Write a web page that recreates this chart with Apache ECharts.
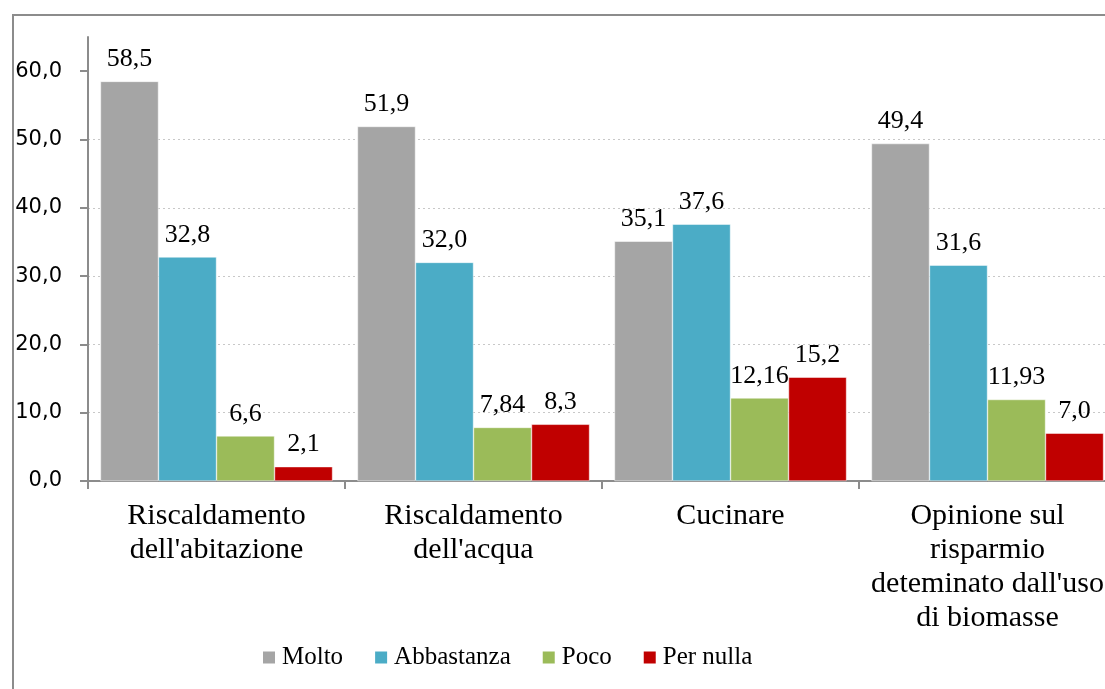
<!DOCTYPE html>
<html>
<head>
<meta charset="utf-8">
<script src="https://cdn.jsdelivr.net/npm/echarts@6/dist/echarts.min.js"></script>
<style>
html,body{margin:0;padding:0;background:#fff;}
#chart{width:1105px;height:689px;}
</style>
</head>
<body>
<div id="chart"></div>
<script>
const categories = ["Riscaldamento\ndell'abitazione", "Riscaldamento\ndell'acqua", "Cucinare", "Opinione sul\nrisparmio\ndeteminato dall'uso\ndi biomasse"];
const seriesNames = ["Molto", "Abbastanza", "Poco", "Per nulla"];
const molto = [58.5, 51.9, 35.1, 49.4];
const abbastanza = [32.8, 32.0, 37.6, 31.6];
const poco = [6.6, 7.84, 12.16, 11.93];
const perNulla = [2.1, 8.3, 15.2, 7.0];
const yTicks = [0, 10, 20, 30, 40, 50, 60];
const colors = ["#A5A5A5", "#4BACC6", "#9BBB59", "#C00000"];

const serif = "'Liberation Serif', 'DejaVu Serif', serif";
function fmt(v) {
  const s = Number.isInteger(v) ? v.toFixed(1) : String(v);
  return s.replace('.', ',');
}
const dataSets = [molto, abbastanza, poco, perNulla];

const chart = echarts.init(document.getElementById('chart'));
chart.setOption({
  animation: false,
  backgroundColor: '#fff',
  color: colors,
  graphic: [{
    type: 'rect',
    shape: {x: 13, y: 15, width: 1120, height: 700},
    style: {fill: 'none', stroke: '#8c8c8c', lineWidth: 2},
    silent: true, z: -10
  }],
  grid: {left: 88, top: 37, bottom: 208, right: -11, containLabel: false, outerBoundsMode: 'none'},
  legend: {
    data: seriesNames,
    left: 256, top: 640,
    icon: 'rect', itemWidth: 14, itemHeight: 14, itemGap: 30,
    textStyle: {fontFamily: serif, fontSize: 25, color: '#000', padding: [0, 0, 0, 1]}
  },
  xAxis: {
    type: 'category',
    data: categories,
    axisLine: {lineStyle: {color: '#8c8c8c', width: 2}},
    axisTick: {show: true, length: 8, lineStyle: {color: '#8c8c8c', width: 2}},
    axisLabel: {fontFamily: serif, fontSize: 30, color: '#000', lineHeight: 34, margin: 18, interval: 0}
  },
  yAxis: {
    type: 'value',
    min: 0, max: 65, interval: 10,
    axisLine: {show: true, lineStyle: {color: '#8c8c8c', width: 2}},
    axisTick: {show: true, length: 8, customValues: yTicks, lineStyle: {color: '#8c8c8c', width: 2}},
    axisLabel: {
      customValues: yTicks,
      fontFamily: "'DejaVu Sans', sans-serif", fontSize: 21, color: '#000', margin: 26,
      formatter: v => v.toFixed(1).replace('.', ',')
    },
    splitLine: {show: true, showMaxLine: false, lineStyle: {color: '#c8c8c8', type: [2, 3], width: 1}}
  },
  series: dataSets.map((d, i) => ({
    name: seriesNames[i],
    type: 'bar',
    data: d,
    barGap: '0%',
    barCategoryGap: '9.7%',
    itemStyle: {color: colors[i], borderColor: '#fff', borderWidth: 0.5},
    label: {
      show: true, position: 'top', distance: 9,
      fontFamily: serif, fontSize: 26, color: '#000',
      formatter: p => fmt(p.value)
    }
  }))
});
</script>
</body>
</html>
